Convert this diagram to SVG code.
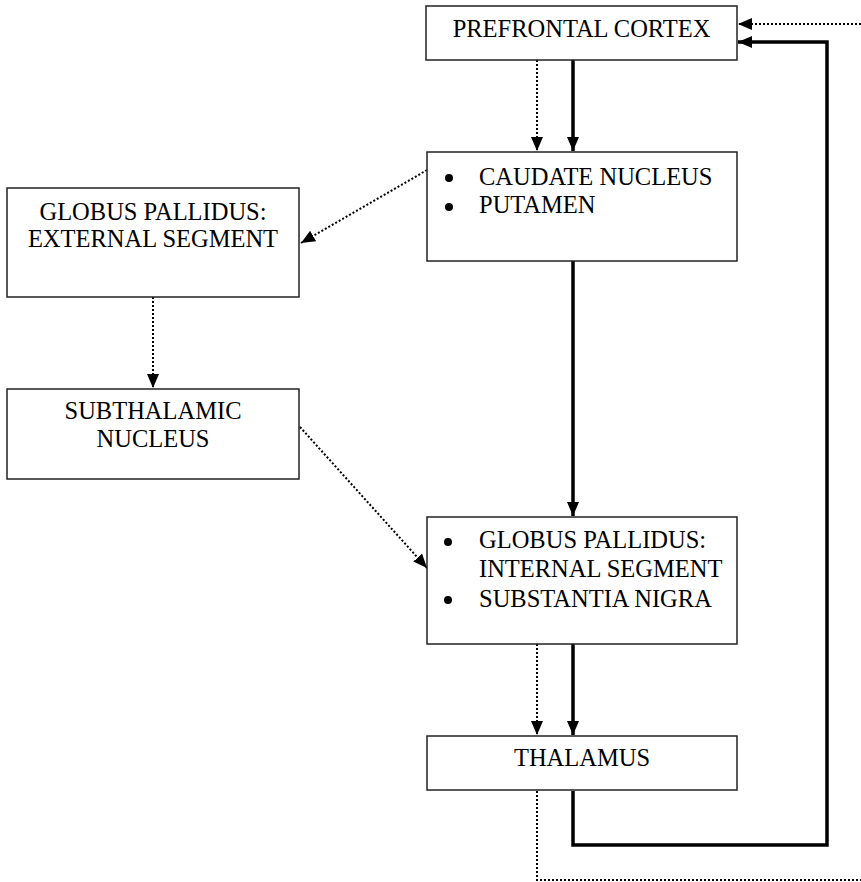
<svg xmlns="http://www.w3.org/2000/svg" width="861" height="882" viewBox="0 0 861 882">
<style>
.box{fill:#fff;stroke:#222;stroke-width:1.5}
.t{font-family:"Liberation Serif","Times New Roman",serif;font-size:24.5px;fill:#000}
.c{text-anchor:middle}
.b{fill:#000}
.solid{fill:none;stroke:#000;stroke-width:3.5}
.dot{fill:none;stroke:#000;stroke-width:2;stroke-dasharray:2 2}
</style>
<defs>
<marker id="ah" viewBox="0 0 14 12" refX="14" refY="6" markerWidth="14" markerHeight="12" markerUnits="userSpaceOnUse" orient="auto">
<path d="M0,0 L14,6 L0,12 Z" fill="#000"/>
</marker>
</defs>
<rect width="861" height="882" fill="#fff"/>
<g id="connectors">
<line class="dot" x1="537" y1="60" x2="537" y2="151" marker-end="url(#ah)"/>
<line class="solid" x1="573" y1="60" x2="573" y2="151" marker-end="url(#ah)"/>
<line class="dot" x1="427" y1="170" x2="301" y2="243" marker-end="url(#ah)"/>
<line class="dot" x1="153" y1="297" x2="153" y2="388" marker-end="url(#ah)"/>
<line class="dot" x1="300" y1="427" x2="427" y2="568" marker-end="url(#ah)"/>
<line class="solid" x1="573" y1="261" x2="573" y2="516" marker-end="url(#ah)"/>
<line class="dot" x1="537" y1="644" x2="537" y2="735" marker-end="url(#ah)"/>
<line class="solid" x1="573" y1="644" x2="573" y2="735" marker-end="url(#ah)"/>
<polyline class="solid" points="573,791 573,845 827,845 827,42 738,42" marker-end="url(#ah)"/>
<polyline class="dot" points="537,791 537,880 861,880"/>
<line class="dot" x1="861" y1="24" x2="738" y2="24" marker-end="url(#ah)"/>
</g>
<g id="prefrontal">
<rect class="box" x="426" y="6" width="311" height="54"/>
<text class="t c" x="581.5" y="37">PREFRONTAL CORTEX</text>
</g>
<g id="caudate">
<rect class="box" x="427" y="152" width="310" height="109"/>
<circle class="b" cx="449" cy="178" r="4"/>
<text class="t" x="479" y="185">CAUDATE NUCLEUS</text>
<circle class="b" cx="449" cy="207" r="4"/>
<text class="t" x="479" y="213">PUTAMEN</text>
</g>
<g id="gpe">
<rect class="box" x="7" y="188" width="292" height="109"/>
<text class="t c" x="153" y="220">GLOBUS PALLIDUS:</text>
<text class="t c" x="153" y="247">EXTERNAL SEGMENT</text>
</g>
<g id="stn">
<rect class="box" x="7" y="389" width="292" height="90"/>
<text class="t c" x="153" y="419">SUBTHALAMIC</text>
<text class="t c" x="153" y="447">NUCLEUS</text>
</g>
<g id="gpi">
<rect class="box" x="427" y="517" width="310" height="127"/>
<circle class="b" cx="448" cy="542" r="4"/>
<text class="t" x="479" y="548">GLOBUS PALLIDUS:</text>
<text class="t" x="479" y="577">INTERNAL SEGMENT</text>
<circle class="b" cx="448" cy="600" r="4"/>
<text class="t" x="479" y="607">SUBSTANTIA NIGRA</text>
</g>
<g id="thalamus">
<rect class="box" x="427" y="736" width="310" height="54"/>
<text class="t c" x="582" y="766">THALAMUS</text>
</g>
</svg>
